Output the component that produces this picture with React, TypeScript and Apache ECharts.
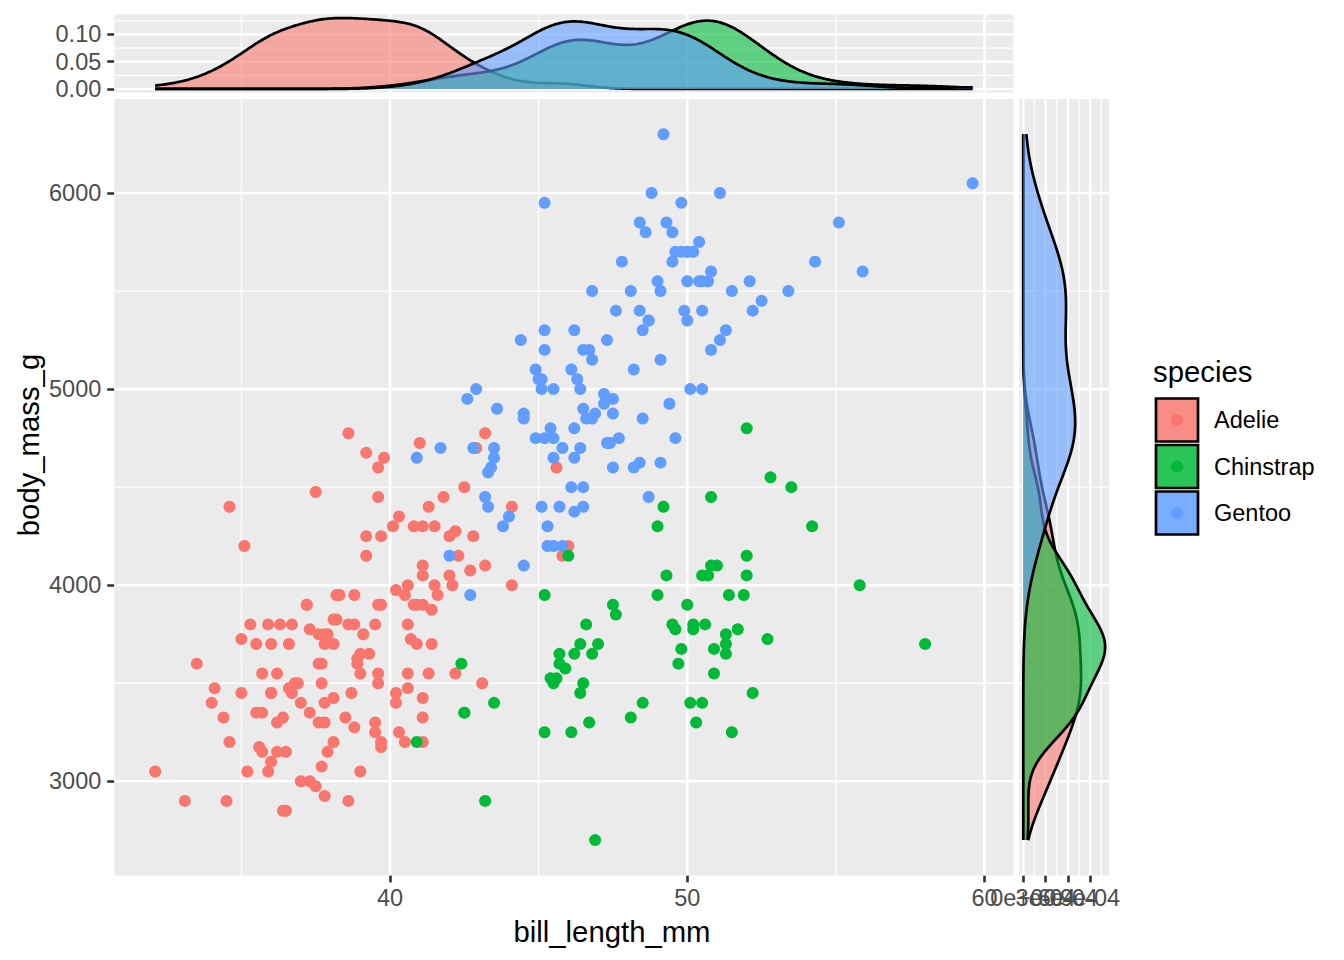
import React, { useEffect, useRef } from "react";
import * as echarts from "echarts";

// ---------- data ----------
const speciesNames = ["Adelie", "Chinstrap", "Gentoo"];
const speciesColors = ["#F8766D", "#00BA38", "#619CFF"];
const densityFills = ["rgba(248,118,109,0.6)", "rgba(0,186,56,0.6)", "rgba(97,156,255,0.6)"];
const keyFills = ["rgba(248,118,109,0.84)", "rgba(0,186,56,0.84)", "rgba(97,156,255,0.84)"];

const adelieBill = [
  39.1, 39.5, 40.3, 36.7, 39.3, 38.9, 39.2, 34.1, 42.0, 37.8, 37.8, 41.1, 38.6, 34.6, 36.6, 38.7, 42.5, 34.4, 46.0,
  37.8, 37.7, 35.9, 38.2, 38.8, 35.3, 40.6, 40.5, 37.9, 40.5,
  39.5, 37.2, 39.5, 40.9, 36.4, 39.2, 38.8, 42.2, 37.6, 39.8, 36.5, 40.8, 36.0, 44.1, 37.0, 39.6, 41.1, 37.5, 36.0, 42.3,
  39.6, 40.1, 35.0, 42.0, 34.5, 41.4, 39.0, 40.6, 36.5, 37.6, 35.7, 41.3, 37.6, 41.1, 36.4, 41.6, 35.5, 41.1,
  35.9, 41.8, 33.5, 39.7, 39.6, 45.8, 35.5, 42.8, 40.9, 37.2, 36.2, 42.1, 34.6, 42.9, 36.7, 35.1,
  37.3, 41.3, 36.3, 36.9, 38.3, 38.9, 35.7, 41.1, 34.0, 39.6, 36.2, 40.8, 38.1, 40.3, 33.1, 43.2,
  35.0, 41.0, 37.7, 37.8, 37.9, 39.7, 38.6, 38.2, 38.1, 43.2, 38.1, 45.6, 39.7, 42.2, 39.6, 42.7,
  38.6, 37.3, 35.7, 41.1, 36.2, 37.7, 40.2, 41.4, 35.2, 40.6, 38.8, 41.5, 39.0, 44.1, 38.5, 43.1,
  36.8, 37.5, 38.1, 41.1, 35.6, 40.2, 37.0, 39.7, 40.2, 40.6, 32.1, 40.7, 37.3, 39.0, 39.2, 36.6, 36.0, 37.8, 36.0, 41.5,
];
const adelieMass = [
  3750, 3800, 3250, 3450, 3650, 3625, 4675, 3475, 4250, 3300, 3700, 3200, 3800, 4400, 3700, 3450, 4500, 3325, 4200,
  3400, 3600, 3800, 3950, 3800, 3800, 3550, 3200, 3150, 3950,
  3250, 3900, 3300, 3900, 3325, 4150, 3950, 3550, 3300, 4650, 3150, 3900, 3100, 4400, 3000, 4600, 3425, 2975, 3450, 4150,
  3500, 4300, 3450, 4050, 2900, 3700, 3550, 3800, 2850, 3750, 3150, 4400, 3600, 4050, 2850, 3950, 3350, 4100,
  3050, 4450, 3600, 3900, 3550, 4150, 3700, 4250, 3700, 3900, 3550, 4000, 3200, 4700, 3800, 4200,
  3350, 3550, 3800, 3500, 3950, 3600, 3550, 4300, 3400, 4450, 3300, 4300, 3700, 4350, 2900, 4100,
  3725, 4725, 3075, 2925, 3750, 3175, 4775, 3825, 3200, 4775, 3825, 4600, 3200, 4275, 3900, 4075,
  2900, 3775, 3350, 3325, 3150, 3500, 3450, 3875, 3050, 4000, 3275, 4300, 3050, 4000, 3325, 3500,
  3500, 4475, 3425, 3900, 3175, 3975, 3400, 4250, 3400, 3475, 3050, 3725, 3000, 3650, 4250, 3475, 3450, 3750, 3700, 4000,
];
const chinstrapBill = [
  46.5, 50.0, 51.3, 45.4, 52.7, 45.2, 46.1, 51.3, 46.0, 51.3,
  46.6, 51.7, 47.0, 52.0, 45.9, 50.5, 50.3, 58.0, 46.4, 49.2,
  42.4, 48.5, 43.2, 50.6, 46.7, 52.0, 50.5, 49.5, 46.4, 52.8,
  40.9, 54.2, 42.5, 51.0, 49.7, 47.5, 47.6, 52.0, 46.9, 53.5,
  49.0, 46.2, 50.9, 45.5, 50.9, 50.8, 50.1, 49.0, 51.5, 49.8,
  48.1, 51.4, 45.7, 50.7, 42.5, 52.2, 45.2, 49.3, 50.2, 45.6,
  51.9, 46.8, 45.7, 55.8, 43.5, 49.6, 50.8, 50.2,
];
const chinstrapMass = [
  3500, 3900, 3650, 3525, 3725, 3950, 3250, 3750, 4150, 3700,
  3800, 3775, 3700, 4050, 3575, 4050, 3300, 3700, 3450, 4400,
  3600, 3400, 2900, 3800, 3300, 4150, 3400, 3800, 3700, 4550,
  3200, 4300, 3350, 4100, 3600, 3900, 3850, 4800, 2700, 4500,
  3950, 3650, 3550, 3500, 3675, 4450, 3400, 4300, 3250, 3675,
  3325, 3950, 3600, 4050, 3350, 3450, 3250, 4050, 3800, 3525,
  3950, 3650, 3650, 4000, 3400, 3775, 4100, 3775,
];
const gentooBill = [
  46.1, 50.0, 48.7, 50.0, 47.6, 46.5, 45.4, 46.7, 43.3, 46.8,
  40.9, 49.0, 45.5, 48.4, 45.8, 49.3, 42.0, 49.2, 46.2, 48.7,
  50.2, 45.1, 46.5, 46.3, 42.9, 46.1, 44.5, 47.8, 48.2, 50.0,
  47.3, 42.8, 45.1, 59.6, 49.1, 48.4, 42.6, 44.4, 44.0, 48.7,
  42.7, 49.6, 45.3, 49.6, 50.5, 43.6, 45.5, 50.5, 44.9, 45.2,
  46.6, 48.5, 45.1, 50.1, 46.5, 45.0, 43.8, 45.5, 43.2, 50.4,
  45.3, 46.2, 45.7, 54.3, 45.8, 49.8, 46.2, 49.5, 43.5, 50.7,
  47.7, 46.4, 48.2, 46.5, 46.4, 48.6, 47.5, 51.1, 45.2, 45.2,
  49.1, 52.5, 47.4, 50.0, 44.9, 50.8, 43.4, 51.3, 47.5, 52.1,
  47.5, 52.2, 45.5, 49.5, 44.5, 50.8, 49.4, 46.9, 48.4, 51.1,
  48.5, 55.9, 47.2, 49.1, 47.3, 46.8, 41.7, 53.4, 43.3, 48.1,
  50.5, 49.8, 43.5, 51.5, 46.2, 55.1, 44.5, 48.8, 47.2, 46.8,
  50.4, 45.2, 49.9,
];
const gentooMass = [
  4500, 5700, 4450, 5700, 5400, 4500, 4800, 5200, 4400, 5150,
  4650, 5550, 4650, 5850, 4200, 5850, 4150, 6300, 4800, 5350,
  5700, 5000, 4400, 5050, 5000, 5100, 4100, 5650, 4600, 5550,
  5250, 4700, 5050, 6050, 5150, 5400, 4950, 5250, 4350, 5350,
  3950, 5700, 4300, 4750, 5550, 4900, 4200, 5400, 5100, 5300,
  4850, 5300, 4400, 5000, 4900, 5050, 4300, 5000, 4450, 5550,
  4200, 5300, 4400, 5650, 4700, 5700, 4650, 5800, 4700, 5550,
  4750, 5000, 5100, 5200, 4700, 5800, 4600, 6000, 4750, 5950,
  4625, 5450, 4725, 5350, 4750, 5600, 4600, 5300, 4875, 5550,
  4950, 5400, 4750, 5650, 4850, 5200, 4925, 4875, 4625, 5250,
  4850, 5600, 4975, 5500, 4725, 5500, 4700, 5500, 4575, 5500,
  5000, 5950, 4650, 5500, 4375, 5850, 4875, 6000, 4925, 4850,
  5750, 5200, 5400,
];

// tick values / labels
const xMajor = [40, 50, 60];
const xMinor = [35, 45, 55];
const yMajor = [3000, 4000, 5000, 6000];
const yMinor = [3500, 4500, 5500];
const topMajor = [0, 0.05, 0.1];
const topLabels = ["0.00", "0.05", "0.10"];
const topMinor = [0.025, 0.075, 0.125];
const rightMajor = [0, 0.0003, 0.0006, 0.0009];
const rightLabels = ["0e+00", "3e-04", "6e-04", "9e-04"];
const rightMinor = [0.00015, 0.00045, 0.00075, 0.00105];

// ---------- helpers ----------
const billBySpecies = [adelieBill, chinstrapBill, gentooBill];
const massBySpecies = [adelieMass, chinstrapMass, gentooMass];

function kde(data: number[], from: number, to: number, n = 512) {
  const m = data.length;
  const mean = data.reduce((a, b) => a + b, 0) / m;
  const sd = Math.sqrt(data.reduce((a, b) => a + (b - mean) * (b - mean), 0) / (m - 1));
  const s = [...data].sort((a, b) => a - b);
  const q = (p: number) => {
    const h = (m - 1) * p;
    const lo = Math.floor(h);
    const hi = Math.min(lo + 1, m - 1);
    return s[lo] + (h - lo) * (s[hi] - s[lo]);
  };
  const iqr = q(0.75) - q(0.25);
  let lo = Math.min(sd, iqr / 1.34);
  if (!(lo > 0)) lo = sd || 1;
  const bw = 0.9 * lo * Math.pow(m, -0.2);
  const xs: number[] = [];
  const ys: number[] = [];
  const norm = 1 / (m * bw * Math.sqrt(2 * Math.PI));
  for (let k = 0; k < n; k++) {
    const x = from + ((to - from) * k) / (n - 1);
    let sum = 0;
    for (const d of data) {
      const z = (x - d) / bw;
      sum += Math.exp(-0.5 * z * z);
    }
    xs.push(x);
    ys.push(sum * norm);
  }
  return { xs, ys };
}

const FONT = '"Liberation Sans", Arial, Helvetica, sans-serif';
const TICK_COLOR = "#333333";
const LABEL_COLOR = "#4D4D4D";

function lineSeries(gridIdx: number, values: number[], vertical: boolean, range: number[], width: number) {
  return {
    type: "custom",
    xAxisIndex: gridIdx,
    yAxisIndex: gridIdx,
    z: 1,
    silent: true,
    clip: false,
    data: values.map((v) => (vertical ? [v, range[0]] : [range[0], v])),
    renderItem: (params: any, api: any) => {
      const v = vertical ? api.value(0) : api.value(1);
      const a = vertical ? api.coord([v, range[0]]) : api.coord([range[0], v]);
      const b = vertical ? api.coord([v, range[1]]) : api.coord([range[1], v]);
      return {
        type: "line",
        shape: { x1: a[0], y1: a[1], x2: b[0], y2: b[1] },
        style: { stroke: "#FFFFFF", lineWidth: width },
      };
    },
  };
}

function nearestLabel(values: number[], labels: string[]) {
  return (v: number) => {
    let best = 0;
    values.forEach((t, k) => {
      if (Math.abs(t - v) < Math.abs(values[best] - v)) best = k;
    });
    return labels[best];
  };
}

export default function App() {
  const ref = useRef<HTMLDivElement>(null);

  useEffect(() => {
    if (!ref.current) return;
    const chart = echarts.init(ref.current, null, { renderer: "svg" });

    const allBill = ([] as number[]).concat(...billBySpecies);
    const allMass = ([] as number[]).concat(...massBySpecies);
    const bMin = Math.min(...allBill), bMax = Math.max(...allBill);
    const mMin = Math.min(...allMass), mMax = Math.max(...allMass);
    const xR = [bMin - 0.05 * (bMax - bMin), bMax + 0.05 * (bMax - bMin)];
    const yR = [mMin - 0.05 * (mMax - mMin), mMax + 0.05 * (mMax - mMin)];

    const topDens = billBySpecies.map((d) => kde(d, bMin, bMax));
    const rightDens = massBySpecies.map((d) => kde(d, mMin, mMax));
    const topMax = Math.max(...topDens.map((d) => Math.max(...d.ys)));
    const rightMax = Math.max(...rightDens.map((d) => Math.max(...d.ys)));
    const tR = [-0.05 * topMax, 1.05 * topMax];
    const rR = [-0.05 * rightMax, 1.05 * rightMax];

    const densitySeries = (gridIdx: number, dens: { xs: number[]; ys: number[] }[], horizontal: boolean) => ({
      type: "custom",
      xAxisIndex: gridIdx,
      yAxisIndex: gridIdx,
      z: 2,
      silent: true,
      clip: false,
      data: speciesNames.map((_, i) => (horizontal ? [0, 4500, i] : [45, 0, i])),
      renderItem: (params: any, api: any) => {
        const i = params.dataIndex;
        const d = dens[i];
        const n = d.xs.length;
        const pts = d.xs.map((x, k) => (horizontal ? api.coord([d.ys[k], x]) : api.coord([x, d.ys[k]])));
        const first = horizontal ? api.coord([0, d.xs[0]]) : api.coord([d.xs[0], 0]);
        const last = horizontal ? api.coord([0, d.xs[n - 1]]) : api.coord([d.xs[n - 1], 0]);
        return {
          type: "group",
          children: [
            { type: "polygon", shape: { points: [first, ...pts, last] }, style: { fill: densityFills[i], stroke: null } },
            {
              type: "polyline",
              shape: { points: pts },
              style: { fill: null, stroke: "#000000", lineWidth: 2.7, lineJoin: "round" },
            },
          ],
        };
      },
    });

    const tickStyle = { show: true, length: 7, lineStyle: { color: TICK_COLOR, width: 2.6 } };
    const labelStyle = {
      color: LABEL_COLOR,
      fontSize: 23.5,
      fontFamily: FONT,
      hideOverlap: false,
      showMinLabel: true,
      showMaxLabel: true,
    };

    const scatterOrder = [0, 2, 1];
    const scatterSeries = scatterOrder.map((i) => ({
      type: "scatter",
      name: speciesNames[i],
      xAxisIndex: 0,
      yAxisIndex: 0,
      z: 3,
      symbol: "circle",
      symbolSize: 12,
      itemStyle: { color: speciesColors[i], opacity: 1 },
      data: billBySpecies[i].map((b, k) => [b, massBySpecies[i][k]]),
    }));

    const keyTop = 398.5;
    const keyStep = 46.5;
    const baseGraphics: any[] = [
      {
        id: "xtitle",
        type: "text",
        x: 612,
        y: 931,
        style: { text: "bill_length_mm", fontSize: 29.3, fontFamily: FONT, fill: "#000000", textAlign: "center", textVerticalAlign: "middle" },
      },
      {
        id: "ytitle",
        type: "text",
        x: 28,
        y: 445,
        rotation: Math.PI / 2,
        style: { text: "body_mass_g", fontSize: 29.3, fontFamily: FONT, fill: "#000000", textAlign: "center", textVerticalAlign: "middle" },
      },
      {
        id: "legtitle",
        type: "text",
        x: 1153,
        y: 371,
        style: { text: "species", fontSize: 29.3, fontFamily: FONT, fill: "#000000", textAlign: "left", textVerticalAlign: "middle" },
      },
    ];
    speciesNames.forEach((name, i) => {
      const cy = keyTop + i * keyStep + 21.5;
      baseGraphics.push({
        id: "key" + i,
        type: "rect",
        shape: { x: 1156, y: keyTop + i * keyStep, width: 42, height: 43 },
        style: { fill: keyFills[i], stroke: "#000000", lineWidth: 2.7 },
      });
      baseGraphics.push({
        id: "keydot" + i,
        type: "circle",
        shape: { cx: 1177, cy, r: 6 },
        style: { fill: speciesColors[i] },
      });
      baseGraphics.push({
        id: "keylab" + i,
        type: "text",
        x: 1214,
        y: cy,
        style: { text: name, fontSize: 23.5, fontFamily: FONT, fill: "#000000", textAlign: "left", textVerticalAlign: "middle" },
      });
    });

    const gridBase = { show: true, backgroundColor: "#EBEBEB", borderWidth: 0, containLabel: false, outerBoundsMode: "none" };

    const option: any = {
      animation: false,
      backgroundColor: "#FFFFFF",
      grid: [
        { ...gridBase, left: 114.3, top: 98.9, width: 899.2, height: 776.5 },
        { ...gridBase, left: 114.3, top: 14.5, width: 899.2, height: 78 },
        { ...gridBase, left: 1019.2, top: 98.9, width: 90, height: 776.5 },
      ],
      xAxis: [
        {
          gridIndex: 0, type: "value", min: xR[0], max: xR[1],
          axisLine: { show: false }, splitLine: { show: false },
          axisTick: { ...tickStyle, customValues: xMajor },
          axisLabel: { ...labelStyle, margin: 11, customValues: xMajor, formatter: (v: number) => String(v) },
        },
        { gridIndex: 1, type: "value", min: xR[0], max: xR[1], show: false, splitLine: { show: false } },
        {
          gridIndex: 2, type: "value", min: rR[0], max: rR[1],
          axisLine: { show: false }, splitLine: { show: false },
          axisTick: { ...tickStyle, customValues: rightMajor },
          // labels of this axis overlap one another (as in the original); drawn below at the axis' tick positions
          axisLabel: { show: false },
        },
      ],
      yAxis: [
        {
          gridIndex: 0, type: "value", min: yR[0], max: yR[1],
          axisLine: { show: false }, splitLine: { show: false },
          axisTick: { ...tickStyle, customValues: yMajor },
          axisLabel: { ...labelStyle, margin: 13, customValues: yMajor, formatter: (v: number) => String(v) },
        },
        {
          gridIndex: 1, type: "value", min: tR[0], max: tR[1],
          axisLine: { show: false }, splitLine: { show: false },
          axisTick: { ...tickStyle, customValues: topMajor },
          axisLabel: { ...labelStyle, margin: 13, customValues: topMajor, formatter: nearestLabel(topMajor, topLabels) },
        },
        { gridIndex: 2, type: "value", min: yR[0], max: yR[1], show: false, splitLine: { show: false } },
      ],
      series: [
        // main panel grid
        lineSeries(0, xMinor, true, yR, 1.3),
        lineSeries(0, yMinor, false, xR, 1.3),
        lineSeries(0, xMajor, true, yR, 2.6),
        lineSeries(0, yMajor, false, xR, 2.6),
        // top panel grid
        lineSeries(1, xMinor, true, tR, 1.3),
        lineSeries(1, topMinor, false, xR, 1.3),
        lineSeries(1, xMajor, true, tR, 2.6),
        lineSeries(1, topMajor, false, xR, 2.6),
        // right panel grid
        lineSeries(2, rightMinor, true, yR, 1.3),
        lineSeries(2, yMinor, false, rR, 1.3),
        lineSeries(2, rightMajor, true, yR, 2.6),
        lineSeries(2, yMajor, false, rR, 2.6),
        densitySeries(1, topDens, false),
        densitySeries(2, rightDens, true),
        ...scatterSeries,
      ],
      graphic: baseGraphics,
    };

    chart.setOption(option);

    // right-panel axis labels placed at the axis' own tick positions
    const bottom = chart.convertToPixel({ yAxisIndex: 2 } as any, yR[0]) as number;
    const rightLabelGraphics = rightMajor.map((v, k) => {
      const px = chart.convertToPixel({ xAxisIndex: 2 } as any, v) as number;
      return {
        id: "rlab" + k,
        type: "text",
        x: px,
        y: bottom + 11,
        style: {
          text: rightLabels[k],
          fontSize: 23.5,
          fontFamily: FONT,
          fill: LABEL_COLOR,
          textAlign: "center",
          textVerticalAlign: "top",
        },
      };
    });
    chart.setOption({ graphic: [...baseGraphics, ...rightLabelGraphics] });

    return () => chart.dispose();
  }, []);

  return <div ref={ref} style={{ position: "absolute", left: 0, top: 0, width: 1344, height: 960 }} />;
}
